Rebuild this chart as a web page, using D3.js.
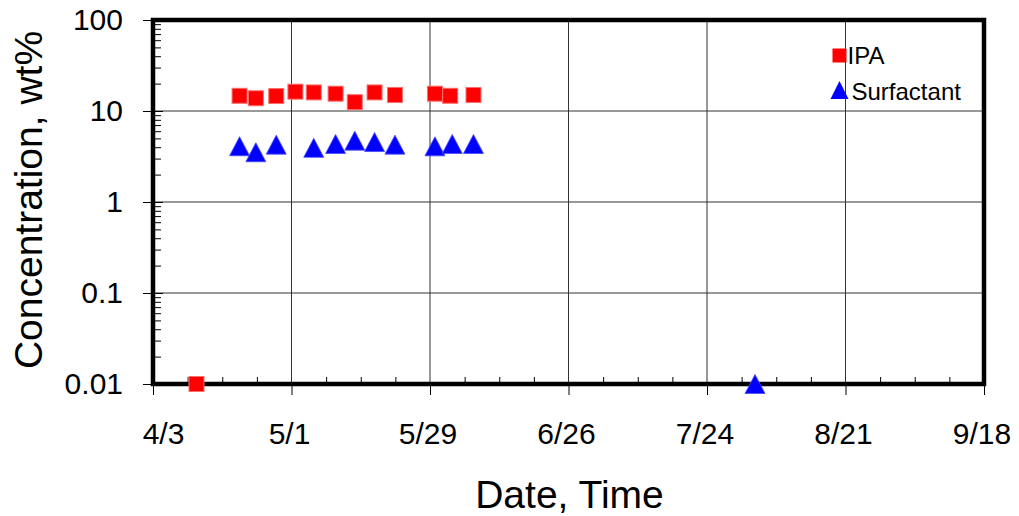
<!DOCTYPE html>
<html>
<head>
<meta charset="utf-8">
<script src="https://cdn.jsdelivr.net/npm/d3@7"></script>
<style>
  body { margin: 0; background: #fff; }
  svg { display: block; }
  text { font-family: "Liberation Sans", Arial, sans-serif; fill: #000; }
</style>
</head>
<body>
<div id="chart"></div>
<script>
// sample times and concentrations (wt%)
const ipaDates = ["2001-04-11T19:00", "2001-04-20T12:00", "2001-04-23T19:00", "2001-04-27T22:00", "2001-05-01T19:00",
  "2001-05-05T12:00", "2001-05-09T22:00", "2001-05-13T19:00", "2001-05-17T19:00", "2001-05-21T22:00",
  "2001-05-30T00:00", "2001-06-02T02:00", "2001-06-06T19:00"];
const ipaValues = [0.01, 14.7, 13.8, 14.6, 16.3, 16.0, 15.5, 12.5, 16.0, 15.0, 15.5, 14.7, 15.0];

const surfDates = ["2001-04-20T12:00", "2001-04-23T19:00", "2001-04-27T22:00", "2001-05-05T12:00", "2001-05-09T22:00",
  "2001-05-13T19:00", "2001-05-17T19:00", "2001-05-21T22:00", "2001-05-30T00:00", "2001-06-02T12:00",
  "2001-06-06T19:00", "2001-08-02T17:00"];
const surfValues = [4.10, 3.52, 4.27, 3.94, 4.34, 4.72, 4.56, 4.27, 4.09, 4.34, 4.34, 0.01];

const xStart = "2001-04-03", xEnd = "2001-09-18";
const yTicks = [0.01, 0.1, 1, 10, 100];
const yTickLabels = ["0.01", "0.1", "1", "10", "100"];
const seriesNames = ["IPA", "Surfactant"];

const W = 1019, H = 516;
const margin = { left: 153, right: 35, top: 20, bottom: 132 };
const iw = W - margin.left - margin.right;
const ih = H - margin.top - margin.bottom;

const parse = d3.isoParse;

const svg = d3.select("#chart").append("svg")
  .attr("width", W).attr("height", H);
svg.append("rect").attr("width", W).attr("height", H).attr("fill", "#fff");

const g = svg.append("g").attr("transform", `translate(${margin.left},${margin.top})`);

const x = d3.scaleTime().domain([parse(xStart), parse(xEnd)]).range([0, iw]);
const y = d3.scaleLog().domain([0.01, 100]).range([ih, 0]);

// major ticks every 28 days, minor every 7
const majors = [], minors = [];
for (let d = parse(xStart); d <= parse(xEnd); d = d3.timeDay.offset(d, 7)) {
  const n = Math.round(d3.timeDay.count(parse(xStart), d) / 7);
  if (n % 4 === 0) majors.push(d); else minors.push(d);
}
const yMinors = [];
yTicks.slice(0, -1).forEach(t => { for (let k = 2; k <= 9; k++) yMinors.push(t * k); });

// gridlines
g.append("g").selectAll("line").data(majors).join("line")
  .attr("x1", d => x(d)).attr("x2", d => x(d))
  .attr("y1", 0).attr("y2", ih)
  .attr("stroke", "#333").attr("stroke-width", 1);
g.append("g").selectAll("line").data(yTicks).join("line")
  .attr("x1", 0).attr("x2", iw)
  .attr("y1", d => y(d)).attr("y2", d => y(d))
  .attr("stroke", "#333").attr("stroke-width", 1);

// x axis
const xAxis = g.append("g").attr("transform", `translate(0,${ih})`)
  .call(d3.axisBottom(x).tickValues(majors).tickFormat(d3.timeFormat("%-m/%-d"))
    .tickSizeInner(11).tickSizeOuter(0).tickPadding(28));
xAxis.select(".domain").remove();
xAxis.selectAll("line").attr("stroke", "#000").attr("stroke-width", 1);
xAxis.selectAll("text").style("font-size", "30px")
  .style("font-family", "'Liberation Sans', Arial, sans-serif").attr("fill", "#000")
  .attr("dx", (d, i) => i === 0 ? 10 : -2.5);

const xMinor = g.append("g").attr("transform", `translate(0,${ih})`)
  .call(d3.axisBottom(x).tickValues(minors).tickFormat("").tickSizeInner(-7).tickSizeOuter(0));
xMinor.select(".domain").remove();
xMinor.selectAll("line").attr("stroke", "#000");

// y axis
const yAxis = g.append("g")
  .call(d3.axisLeft(y).tickValues(yTicks).tickFormat((d, i) => yTickLabels[i])
    .tickSizeInner(10).tickSizeOuter(0).tickPadding(20));
yAxis.select(".domain").remove();
yAxis.selectAll("line").attr("stroke", "#000").attr("x2", -10).attr("x1", 10);
yAxis.selectAll("text").style("font-size", "30px")
  .style("font-family", "'Liberation Sans', Arial, sans-serif").attr("fill", "#000");

const yMinor = g.append("g")
  .call(d3.axisRight(y).tickValues(yMinors).tickFormat("").tickSizeInner(8).tickSizeOuter(0));
yMinor.select(".domain").remove();
yMinor.selectAll("line").attr("stroke", "#000");

// plot frame
g.append("rect").attr("x", 0).attr("y", 0).attr("width", iw).attr("height", ih)
  .attr("fill", "none").attr("stroke", "#000").attr("stroke-width", 4.5);

// markers
const sq = 15;
const triPath = "M0,-9.5L10,9.5L-10,9.5Z";

const ipa = ipaDates.map((d, i) => ({ date: parse(d), value: ipaValues[i] }));
const surf = surfDates.map((d, i) => ({ date: parse(d), value: surfValues[i] }));

g.append("g").selectAll("rect").data(ipa).join("rect")
  .attr("x", d => x(d.date) - sq / 2).attr("y", d => y(d.value) - sq / 2)
  .attr("width", sq).attr("height", sq)
  .attr("fill", "#ff0000").attr("stroke", "#ff6f6f").attr("stroke-width", 1);

g.append("g").selectAll("path").data(surf).join("path")
  .attr("d", triPath)
  .attr("transform", d => `translate(${x(d.date)},${y(d.value)})`)
  .attr("fill", "#0000ff").attr("stroke", "#4a4aff").attr("stroke-width", 0.8);

// legend
const leg = g.append("g").attr("transform", `translate(${839.5 - margin.left},${55.5 - margin.top})`);
leg.append("rect").attr("x", -7).attr("y", -7).attr("width", 14).attr("height", 14)
  .attr("fill", "#ff0000");
leg.append("text").attr("x", 8).attr("y", 8).style("font-size", "24px").text(seriesNames[0]);
leg.append("path").attr("d", "M0,-9L9,9L-9,9Z").attr("transform", "translate(0,34.5)")
  .attr("fill", "#0000ff");
leg.append("text").attr("x", 12).attr("y", 44.5).style("font-size", "24px").text(seriesNames[1]);

// axis titles
svg.append("text").attr("x", 569.5).attr("y", 508)
  .attr("text-anchor", "middle").style("font-size", "39px").text("Date, Time");
svg.append("text").attr("transform", `translate(42,200) rotate(-90)`)
  .attr("text-anchor", "middle").style("font-size", "39px").text("Concentration, wt%");
</script>
</body>
</html>
